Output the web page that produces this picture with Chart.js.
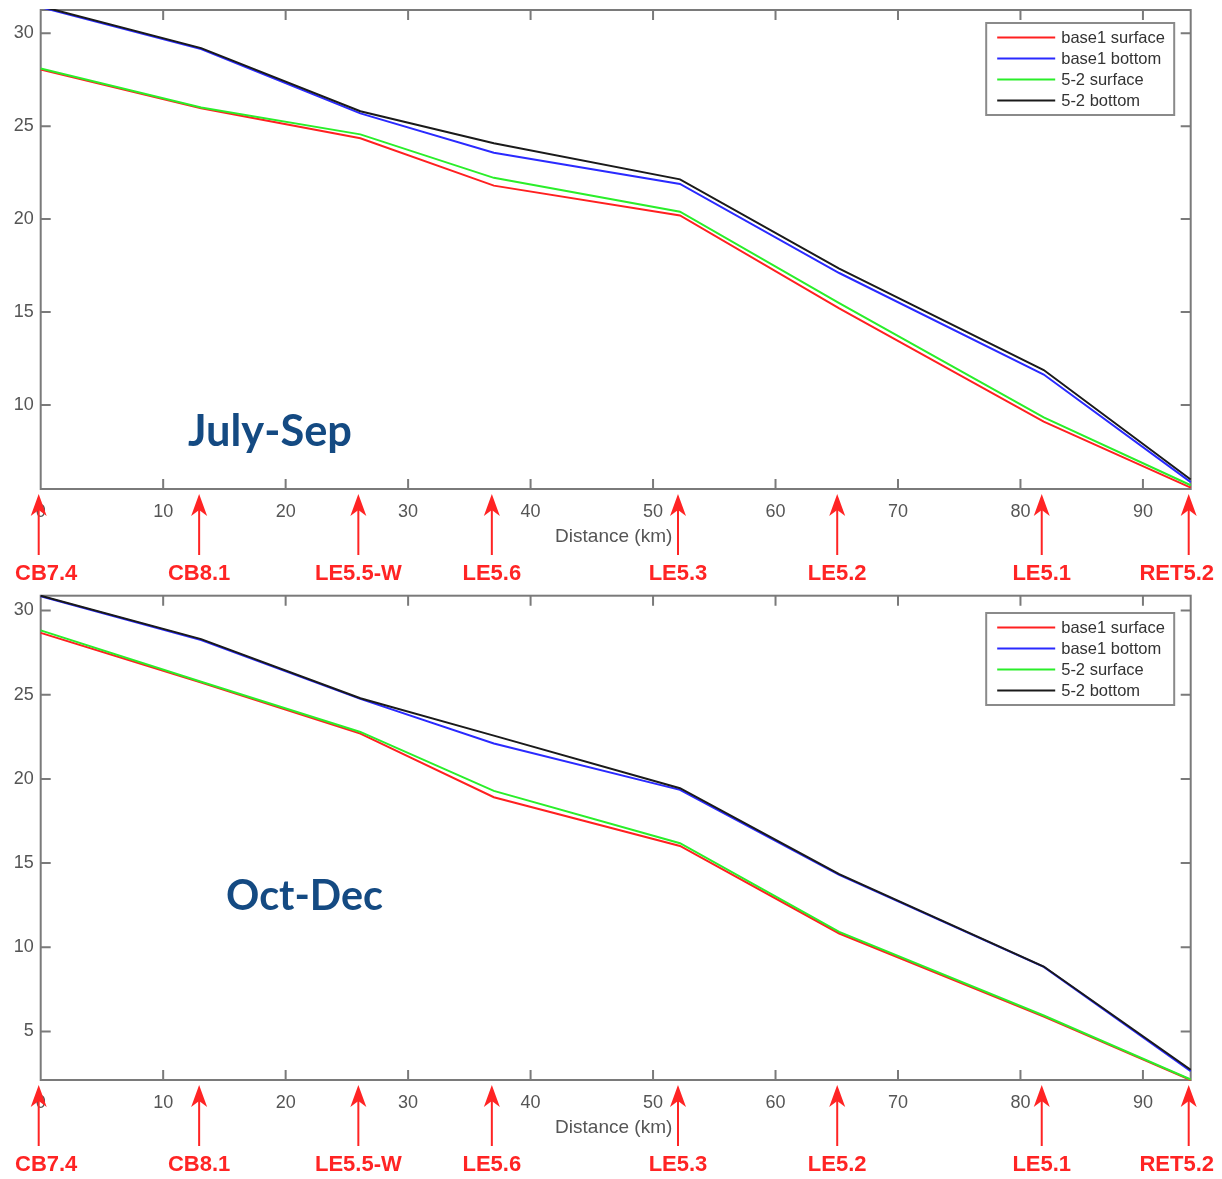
<!DOCTYPE html>
<html><head><meta charset="utf-8">
<script src="https://cdn.jsdelivr.net/npm/chart.js@4.4.1/dist/chart.umd.min.js"></script>
<style>
html,body{margin:0;padding:0;background:#fff;}
#wrap{position:relative;width:1222px;height:1179px;overflow:hidden;background:#fff;}
canvas{position:absolute;left:0;}
#c1{top:0;}
#c2{top:590px;}
</style></head><body>
<div id="wrap">
<canvas id="c1" width="1222" height="590"></canvas>
<canvas id="c2" width="1222" height="589"></canvas>
</div>
<script>
// ---- data ----
const stations = ['CB7.4','CB8.1','LE5.5-W','LE5.6','LE5.3','LE5.2','LE5.1','RET5.2'];
const stationKm = [0, 13.1, 26.1, 37.0, 52.2, 65.2, 81.9, 93.9];
const seriesNames = ['base1 surface','base1 bottom','5-2 surface','5-2 bottom'];

// July-Sep
const julSep_base1Surface = [28.05, 25.96, 24.35, 21.80, 20.20, 15.20, 9.10, 5.55];
const julSep_base1Bottom  = [31.40, 29.15, 25.69, 23.57, 21.89, 17.10, 11.64, 5.85];
const julSep_52Surface    = [28.10, 26.00, 24.56, 22.22, 20.40, 15.48, 9.33, 5.68];
const julSep_52Bottom     = [31.45, 29.20, 25.80, 24.08, 22.14, 17.34, 11.88, 5.99];

// Oct-Dec
const octDec_base1Surface = [28.67, 25.73, 22.69, 18.91, 16.02, 10.82, 5.88, 2.12];
const octDec_base1Bottom  = [30.85, 28.25, 24.75, 22.10, 19.35, 14.30, 8.84, 2.65];
const octDec_52Surface    = [28.82, 25.77, 22.79, 19.29, 16.18, 10.92, 5.95, 2.15];
const octDec_52Bottom     = [30.88, 28.30, 24.79, 22.57, 19.45, 14.35, 8.86, 2.73];

const xRange = [0, 93.9];
const xStep = 10;
const yRangeTop = [5.48, 31.25];
const yRangeBottom = [2.12, 30.88];
const yStep = 5;
const xTitle = 'Distance (km)';

// ---- styles ----
const colors = ['#ff2020', '#2a2aff', '#2aee2a', '#1a1a1a'];
const drawOrder = [4, 3, 2, 1];
const axisColor = '#7a7a7a';
const textColor = '#555555';
const arrowColor = '#ff2424';
const seasonColor = '#144a82';

function makeDatasets(arrs){
  return arrs.map((arr, i) => ({
    label: seriesNames[i],
    data: stationKm.map((x, j) => ({x: x, y: arr[j]})),
    borderColor: colors[i],
    backgroundColor: colors[i],
    borderWidth: 2,
    pointRadius: 0,
    tension: 0,
    order: drawOrder[i],
    clip: 1
  }));
}

const decorPlugin = {
  id: 'decor',
  beforeDatasetsDraw(chart, args, opts){
    const ctx = chart.ctx, a = chart.chartArea;
    const xs = chart.scales.x, ys = chart.scales.y;
    ctx.save();
    ctx.strokeStyle = axisColor;
    ctx.lineWidth = 2;
    ctx.strokeRect(a.left, a.top, a.right - a.left, a.bottom - a.top);
    const tl = 10;
    ctx.beginPath();
    xs.ticks.forEach(t => {
      const px = xs.getPixelForValue(t.value);
      if (px <= a.left + 1 || px >= a.right - 1) return;
      ctx.moveTo(px, a.bottom); ctx.lineTo(px, a.bottom - tl);
      ctx.moveTo(px, a.top); ctx.lineTo(px, a.top + tl);
    });
    ys.ticks.forEach(t => {
      const py = ys.getPixelForValue(t.value);
      ctx.moveTo(a.left, py); ctx.lineTo(a.left + tl, py);
      ctx.moveTo(a.right, py); ctx.lineTo(a.right - tl, py);
    });
    ctx.stroke();
    ctx.restore();
  },
  afterDraw(chart, args, opts){
    const ctx = chart.ctx, a = chart.chartArea;
    const xs = chart.scales.x;
    ctx.save();
    // axis title
    ctx.fillStyle = textColor;
    ctx.font = '19px "Liberation Sans", Arial, sans-serif';
    ctx.textAlign = 'center';
    ctx.textBaseline = 'middle';
    ctx.fillText(xTitle, (a.left + a.right) / 2 - 2, a.bottom + 48);

    // legend
    const lw = 188, lh = 92;
    const lx = a.right - 204.5, ly = opts.legendTop;
    ctx.fillStyle = '#ffffff';
    ctx.fillRect(lx, ly, lw, lh);
    ctx.strokeStyle = '#8a8a8a';
    ctx.lineWidth = 2;
    ctx.strokeRect(lx, ly, lw, lh);
    ctx.font = '16.5px "Liberation Sans", Arial, sans-serif';
    ctx.textAlign = 'left';
    chart.data.datasets.forEach((ds, i) => {
      const ry = ly + 14.5 + i * 21;
      ctx.strokeStyle = ds.borderColor;
      ctx.lineWidth = 2;
      ctx.beginPath(); ctx.moveTo(lx + 11, ry); ctx.lineTo(lx + 69, ry); ctx.stroke();
      ctx.fillStyle = '#333333';
      ctx.fillText(ds.label, lx + 75, ry + 1);
    });

    // season label
    let fs = 40;
    ctx.font = 'bold ' + fs + 'px Lato, "Open Sans", sans-serif';
    const w = ctx.measureText(opts.season).width;
    fs = fs * opts.seasonWidth / w;
    ctx.font = 'bold ' + fs.toFixed(1) + 'px Lato, "Open Sans", sans-serif';
    ctx.fillStyle = seasonColor;
    ctx.textAlign = 'center';
    ctx.textBaseline = 'middle';
    ctx.fillText(opts.season, opts.seasonX, opts.seasonY);

    // station arrows
    const base = a.bottom;
    ctx.font = 'bold 22px "Liberation Sans", Arial, sans-serif';
    stations.forEach((name, i) => {
      const px = xs.getPixelForValue(stationKm[i]) - 2;
      ctx.strokeStyle = arrowColor;
      ctx.fillStyle = arrowColor;
      ctx.lineWidth = 2;
      ctx.beginPath(); ctx.moveTo(px, base + 20); ctx.lineTo(px, base + 66); ctx.stroke();
      ctx.beginPath();
      ctx.moveTo(px, base + 5);
      ctx.lineTo(px + 8, base + 27);
      ctx.lineTo(px, base + 21);
      ctx.lineTo(px - 8, base + 27);
      ctx.closePath();
      ctx.fill();
      const tw = ctx.measureText(name).width;
      let cx = px;
      if (cx - tw / 2 < 15) cx = 15 + tw / 2;
      if (cx + tw / 2 > 1214) cx = 1214 - tw / 2;
      ctx.textAlign = 'center';
      ctx.textBaseline = 'middle';
      ctx.fillText(name, cx, base + 85);
    });
    ctx.restore();
  }
};

function makeChart(id, arrs, yRange, padTop, xAxisH, decorOpts){
  return new Chart(document.getElementById(id), {
    type: 'line',
    data: { datasets: makeDatasets(arrs) },
    options: {
      responsive: false,
      animation: false,
      events: [],
      layout: { padding: { left: 0, right: 31.3, top: padTop, bottom: 0 } },
      plugins: { legend: { display: false }, tooltip: { enabled: false }, decor: decorOpts },
      scales: {
        x: {
          type: 'linear', min: xRange[0], max: xRange[1],
          grid: { display: false, drawTicks: false },
          border: { display: false },
          ticks: { stepSize: xStep, includeBounds: false, padding: 12, maxRotation: 0,
                   color: textColor, font: { family: '"Liberation Sans", Arial, sans-serif', size: 18 } },
          afterFit: s => { s.height = xAxisH; s.paddingLeft = 0; s.paddingRight = 0; }
        },
        y: {
          type: 'linear', min: yRange[0], max: yRange[1],
          grid: { display: false, drawTicks: false },
          border: { display: false },
          ticks: { stepSize: yStep, includeBounds: false, padding: 7,
                   color: textColor, font: { family: '"Liberation Sans", Arial, sans-serif', size: 18 } },
          afterFit: s => { s.width = 40.7; s.paddingTop = 0; s.paddingBottom = 0; }
        }
      }
    },
    plugins: [decorPlugin]
  });
}

makeChart('c1', [julSep_base1Surface, julSep_base1Bottom, julSep_52Surface, julSep_52Bottom],
  yRangeTop, 10, 101, { legendTop: 23, season: 'July-Sep', seasonX: 270, seasonY: 432, seasonWidth: 164 });
makeChart('c2', [octDec_base1Surface, octDec_base1Bottom, octDec_52Surface, octDec_52Bottom],
  yRangeBottom, 5.7, 99, { legendTop: 23, season: 'Oct-Dec', seasonX: 304.5, seasonY: 307, seasonWidth: 157 });
</script>
</body></html>
